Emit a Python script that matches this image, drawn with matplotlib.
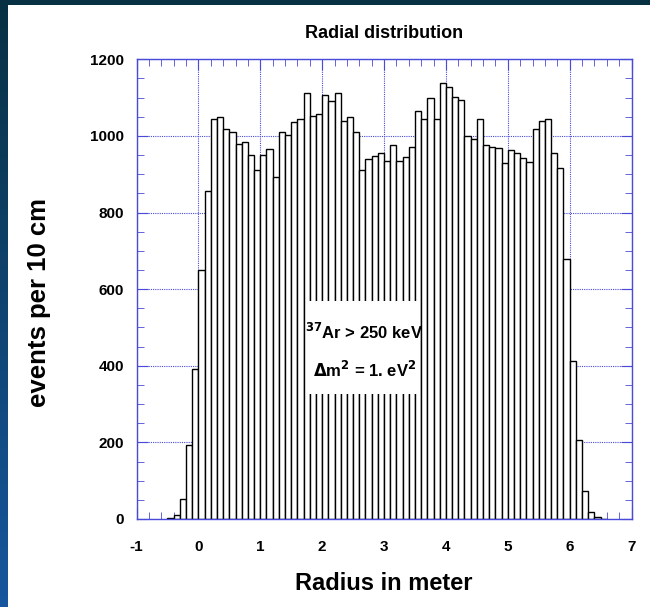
import numpy as np
import matplotlib
matplotlib.use("Agg")
import matplotlib.pyplot as plt
from matplotlib.patches import Rectangle
from matplotlib.ticker import MultipleLocator

plt.rcParams['axes.unicode_minus'] = False

# ---- data ----
bin_left = [round(-0.5 + 0.1 * i, 1) for i in range(71)]
counts = [3, 10, 53, 193, 391,
          651, 856, 1043, 1049, 1019, 1009, 978, 985, 950, 912,
          951, 967, 894, 1009, 1003, 1037, 1043, 1112, 1052, 1058,
          1108, 1092, 1111, 1039, 1050, 1009, 911, 941, 947, 956,
          935, 977, 935, 944, 972, 1064, 1043, 1100, 1045, 1137,
          1128, 1102, 1094, 999, 991, 1043, 977, 972, 969, 930,
          962, 956, 943, 932, 1017, 1039, 1043, 956, 917, 678,
          412, 205, 74, 19, 4, 1]
bin_width = 0.1
x_ticks = [-1, 0, 1, 2, 3, 4, 5, 6, 7]
y_ticks = [0, 200, 400, 600, 800, 1000, 1200]

title = "Radial distribution"
xlabel = "Radius in meter"
ylabel = "events per 10 cm"

W, H = 650, 607
fig = plt.figure(figsize=(W / 100, H / 100), dpi=100)

# background gradient (dark teal at top, brighter blue at bottom)
bg = fig.add_axes([0, 0, 1, 1])
bg.set_axis_off()
yy, xx = np.mgrid[0:1:200j, 0:1:200j]
c_top = np.array([0.03, 0.19, 0.26])
c_bot = np.array([0.09, 0.34, 0.62])
t = yy[..., None]  # 0 at top row, 1 at bottom row
img = c_top * (1 - t) + c_bot * t
bg.imshow(img, extent=[0, 1, 0, 1], aspect='auto', origin='upper')
bg.add_patch(Rectangle((8 / W, 0), 1 - 8 / W, 1 - 5 / H, transform=bg.transAxes,
                       facecolor='white', edgecolor='none'))
bg.set_xlim(0, 1)
bg.set_ylim(0, 1)

blue = '#4a4ad8'
ax = fig.add_axes([136.5 / W, 1 - 519 / H, (631.5 - 136.5) / W, (519 - 59.3) / H])
ax.set_facecolor('white')
ax.bar(bin_left, counts, width=bin_width, align='edge', facecolor='white',
       edgecolor='black', linewidth=1.0, zorder=3)
ax.set_xlim(-1, 7)
ax.set_ylim(0, 1200)
ax.set_xticks(x_ticks)
ax.set_yticks(y_ticks)
ax.xaxis.set_minor_locator(MultipleLocator(0.2))
ax.yaxis.set_minor_locator(MultipleLocator(50))
ax.grid(True, which='major', color=blue, linestyle=(0, (1, 1)), linewidth=0.8, zorder=1)
for s in ax.spines.values():
    s.set_color(blue)
    s.set_linewidth(1.0)
    s.set_zorder(4)
ax.tick_params(which='both', direction='in', top=True, right=True, color=blue)
ax.tick_params(which='major', length=8)
ax.tick_params(which='minor', length=5)
ax.tick_params(axis='x', which='major', pad=15)
ax.tick_params(axis='y', which='major', pad=9)
for lab in ax.get_xticklabels() + ax.get_yticklabels():
    lab.set_fontfamily('Liberation Sans')
    lab.set_fontweight('bold')
    lab.set_fontsize(11)

ax.set_xlabel(xlabel, fontfamily='Liberation Sans', fontweight='bold', fontsize=17, labelpad=13)
ax.set_ylabel(ylabel, fontfamily='Liberation Sans', fontweight='bold', fontsize=18.5)
ax.yaxis.set_label_coords(-0.172, 0.47)
ax.set_title(title, fontfamily=['Liberation Sans Narrow', 'Liberation Sans'], fontweight='bold',
             fontsize=13, pad=15)

# annotation box
ax.add_patch(Rectangle((1.77, 325), 1.8, 245, facecolor='white', edgecolor='none', zorder=5))
ax.text(2.68, 487, r"$^{\mathbf{37}}$Ar > 250 keV", ha='center', va='center', zorder=6,
        fontfamily='Liberation Sans', fontweight='bold', fontsize=12)
ax.text(2.68, 390, r"$\mathbf{\Delta}$m$^{\mathbf{2}}$ = 1. eV$^{\mathbf{2}}$", ha='center', va='center', zorder=6,
        fontfamily='Liberation Sans', fontweight='bold', fontsize=12)

fig.savefig('out.png', dpi=100)
